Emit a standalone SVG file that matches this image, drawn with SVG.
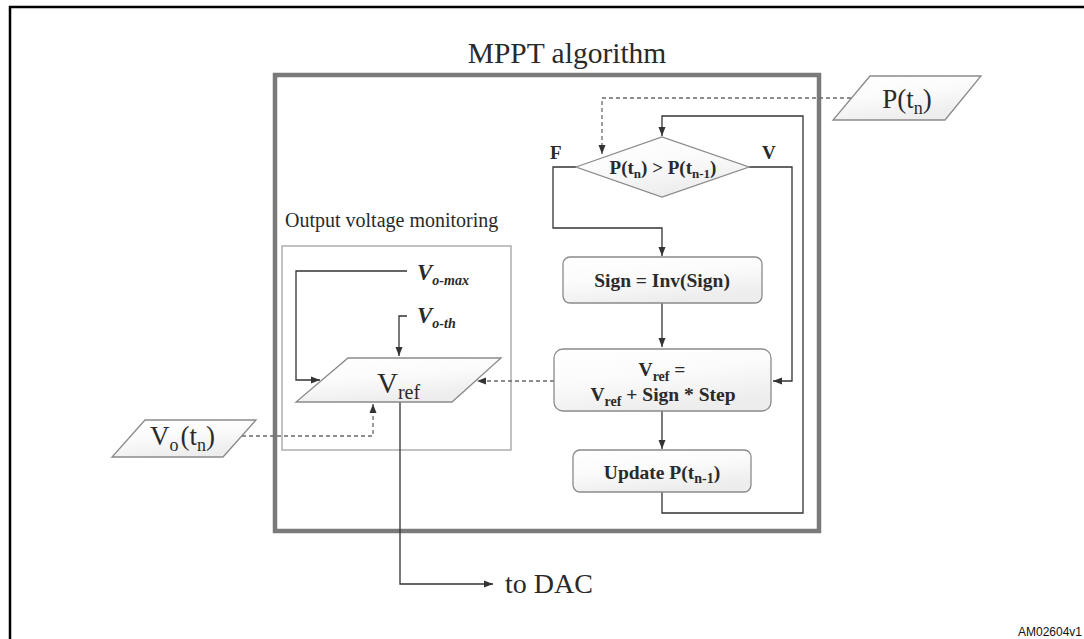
<svg xmlns="http://www.w3.org/2000/svg" width="1084" height="639" viewBox="0 0 1084 639">
<style>
  .serif { font-family: "Liberation Serif", "Times New Roman", serif; fill: #2a2a2a; }
  .bold { font-weight: bold; }
  .shape { stroke: #8a8a8a; stroke-width: 1.3; fill: url(#grad); }
  .conn { fill: none; stroke: #333; stroke-width: 1.3; }
  .dash { fill: none; stroke: #6a6a6a; stroke-width: 1.3; stroke-dasharray: 4 3; }
</style>
<defs>
  <linearGradient id="grad" x1="0" y1="0" x2="0.4" y2="1">
    <stop offset="0" stop-color="#ffffff"/>
    <stop offset="0.5" stop-color="#fbfbfb"/>
    <stop offset="1" stop-color="#ededed"/>
  </linearGradient>
  <marker id="arr" markerUnits="userSpaceOnUse" markerWidth="10" markerHeight="10" viewBox="0 0 10 10" refX="9" refY="5" orient="auto">
    <path d="M0,1.5 L9,5 L0,8.5 Z" fill="#333"/>
  </marker>
</defs>
<rect width="1084" height="639" fill="#fff"/>
<path d="M10,639 V7 H1084" fill="none" stroke="#000" stroke-width="2.5"/>

<g id="mppt-frame">
  <rect x="275" y="75" width="544" height="456" fill="none" stroke="#7a7a7a" stroke-width="4.5"/>
  <text class="serif" x="567" y="63" font-size="29.5" text-anchor="middle">MPPT algorithm</text>
</g>

<g id="ovm-frame">
  <rect x="282" y="246" width="229" height="204" fill="none" stroke="#999" stroke-width="1.2"/>
  <text class="serif" x="285" y="227" font-size="20">Output voltage monitoring</text>
</g>

<g id="connectors">
  <path class="conn" d="M576,167 H553 V228 H662 V256" marker-end="url(#arr)"/>
  <path class="conn" d="M749,167 H792 V381 H773" marker-end="url(#arr)"/>
  <path class="conn" d="M662,303 V347" marker-end="url(#arr)"/>
  <path class="conn" d="M662,411 V449" marker-end="url(#arr)"/>
  <path class="conn" d="M662,492 V513 H803 V116 H662 V136" marker-end="url(#arr)"/>
  <path class="dash" d="M851,98 H602 V154" marker-end="url(#arr)"/>
  <path class="conn" d="M407,271 H296 V380 H320" marker-end="url(#arr)"/>
  <path class="conn" d="M407,316 H399 V356" marker-end="url(#arr)"/>
  <path class="dash" d="M554,381 H477" marker-end="url(#arr)"/>
  <path class="dash" d="M242,436 H373 V404" marker-end="url(#arr)"/>
  <path class="conn" d="M400,402 V584 H493" marker-end="url(#arr)"/>
</g>

<g id="decision">
  <polygon class="shape" points="576,167 662,137 749,167 662,197"/>
  <text class="serif bold" x="663" y="174" font-size="19" text-anchor="middle">P(t<tspan font-size="13" dy="4">n</tspan><tspan dy="-4">) &gt; P(t</tspan><tspan font-size="13" dy="4">n-1</tspan><tspan dy="-4">)</tspan></text>
  <text class="serif bold" x="550" y="159" font-size="19">F</text>
  <text class="serif bold" x="762" y="159" font-size="19">V</text>
</g>

<g id="p-input">
  <polygon class="shape" points="870,76 981,76 945,120 833,120"/>
  <text class="serif" x="907" y="108" font-size="27" text-anchor="middle">P(t<tspan font-size="18" dy="6">n</tspan><tspan dy="-6">)</tspan></text>
</g>

<g id="sign-box">
  <rect class="shape" x="563" y="257" width="199" height="46" rx="7"/>
  <text class="serif bold" x="662" y="287" font-size="19.5" text-anchor="middle">Sign = Inv(Sign)</text>
</g>

<g id="vref-box">
  <rect class="shape" x="554" y="349" width="217" height="62" rx="9"/>
  <text class="serif bold" x="662" y="376" font-size="19.5" text-anchor="middle">V<tspan font-size="14" dy="5">ref</tspan><tspan dy="-5"> =</tspan></text>
  <text class="serif bold" x="663" y="401" font-size="19.5" text-anchor="middle">V<tspan font-size="14" dy="5">ref</tspan><tspan dy="-5"> + Sign * Step</tspan></text>
</g>

<g id="update-box">
  <rect class="shape" x="573" y="450" width="178" height="42" rx="7"/>
  <text class="serif bold" x="662" y="479" font-size="19.5" text-anchor="middle">Update P(t<tspan font-size="14" dy="4">n-1</tspan><tspan dy="-4">)</tspan></text>
</g>

<g id="vref-output">
  <polygon class="shape" points="348,358 501,358 452,402 296,402"/>
  <text class="serif" x="377" y="393" font-size="29">V<tspan font-size="20" dy="6">ref</tspan></text>
</g>

<g id="vo-max">
  <text class="serif bold" x="417" y="280" font-size="23" font-style="italic">V<tspan font-size="14" dy="5">o-max</tspan></text>
</g>

<g id="vo-th">
  <text class="serif bold" x="417" y="323" font-size="23" font-style="italic">V<tspan font-size="14" dy="5">o-th</tspan></text>
</g>

<g id="vo-input">
  <polygon class="shape" points="145,420 256,420 223,457 112,457"/>
  <text class="serif" x="150" y="445" font-size="27">V<tspan font-size="18" dy="6">o</tspan><tspan dy="-6" dx="2">(t</tspan><tspan font-size="18" dy="6">n</tspan><tspan dy="-6">)</tspan></text>
</g>

<g id="to-dac">
  <text class="serif" x="505" y="593" font-size="28">to DAC</text>
</g>

<text x="1082" y="636" font-family="Liberation Sans, Arial, sans-serif" font-size="12" text-anchor="end" fill="#111">AM02604v1</text>
</svg>
